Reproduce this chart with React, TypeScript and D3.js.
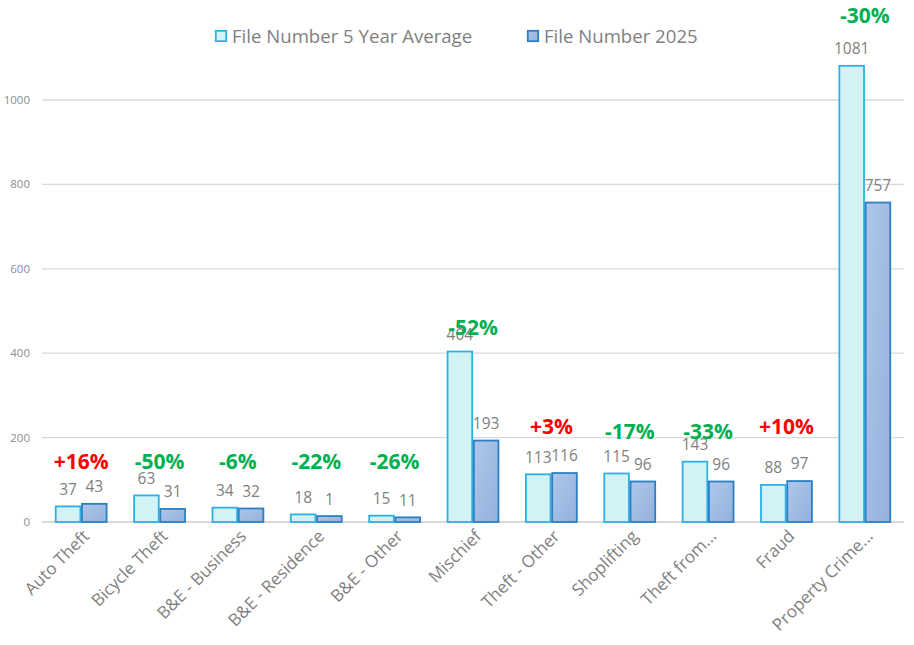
import React, { useEffect, useRef } from 'react';
import * as d3 from 'd3';

const categories = [
    'Auto Theft', 'Bicycle Theft', 'B&E - Business', 'B&E - Residence', 'B&E - Other',
    'Mischief', 'Theft - Other', 'Shoplifting', 'Theft from...', 'Fraud', 'Property Crime...'
];
const seriesNames = ['File Number 5 Year Average', 'File Number 2025'];
const avgValues = [37, 63, 34, 18, 15, 404, 113, 115, 143, 88, 1081];
const curValues = [43, 31, 32, 14, 11, 193, 116, 96, 96, 97, 757];
const avgLabels = ['37', '63', '34', '18', '15', '404', '113', '115', '143', '88', '1081'];
const curLabels = ['43', '31', '32', '1', '11', '193', '116', '96', '96', '97', '757'];
const changeLabels = ['+16%', '-50%', '-6%', '-22%', '-26%', '-52%', '+3%', '-17%', '-33%', '+10%', '-30%'];
// hidden series the change labels sit on (data units)
const changeLevels = [142, 142, 142, 142, 142, 460, 225, 213, 213, 227, 1199];
const yTicks = [0, 200, 400, 600, 800, 1000];

const App: React.FC = () => {
    const svgRef = useRef<SVGSVGElement>(null);

    useEffect(() => {
        if (!svgRef.current) return;
        const svg = d3.select(svgRef.current);
        svg.selectAll('*').remove();

        const font = "'Open Sans', 'Noto Sans', sans-serif";
        const gray = '#7f7f7f';

        const x0 = d3.scaleBand<string>()
            .domain(categories)
            .range([42, 904])
            .paddingInner(0.33)
            .paddingOuter(0.165);
        const x1 = d3.scaleBand<number>()
            .domain([0, 1])
            .range([0, x0.bandwidth()]);
        const y = d3.scaleLinear().domain([0, 1000]).range([522, 100]);

        const defs = svg.append('defs');
        const grad = defs.append('linearGradient')
            .attr('id', 'dark-grad')
            .attr('x1', '0%').attr('y1', '0%').attr('x2', '100%').attr('y2', '100%');
        grad.append('stop').attr('offset', '0%').attr('stop-color', '#aec6ea');
        grad.append('stop').attr('offset', '100%').attr('stop-color', '#94b2dc');

        // gridlines
        svg.append('g')
            .selectAll('line')
            .data(yTicks)
            .enter()
            .append('line')
            .attr('x1', 42)
            .attr('x2', 904)
            .attr('y1', d => y(d))
            .attr('y2', d => y(d))
            .attr('stroke', '#d9d9d9')
            .attr('stroke-width', d => (d === 0 ? 2 : 1.3));

        svg.append('g')
            .selectAll('text')
            .data(yTicks)
            .enter()
            .append('text')
            .attr('x', 30)
            .attr('y', d => y(d))
            .attr('dy', '0.35em')
            .attr('text-anchor', 'end')
            .attr('font-family', font)
            .attr('font-size', 11.5)
            .attr('fill', '#8c8c8c')
            .text(d => d);

        const series = [
            { values: avgValues, labels: avgLabels, fill: '#d3f2f6', stroke: '#2fb0e3' },
            { values: curValues, labels: curLabels, fill: 'url(#dark-grad)', stroke: '#2c7fc2' }
        ];

        series.forEach((s, si) => {
            svg.append('g')
                .selectAll('rect')
                .data(categories)
                .enter()
                .append('rect')
                .attr('x', c => (x0(c) as number) + (x1(si) as number) + 0.8)
                .attr('y', (c, i) => y(s.values[i]))
                .attr('width', x1.bandwidth() - 1.6)
                .attr('height', (c, i) => y(0) - y(s.values[i]))
                .attr('fill', s.fill)
                .attr('stroke', s.stroke)
                .attr('stroke-width', 1.8);

            svg.append('g')
                .selectAll('text')
                .data(categories)
                .enter()
                .append('text')
                .attr('x', c => (x0(c) as number) + (x1(si) as number) + x1.bandwidth() / 2)
                .attr('y', (c, i) => y(s.values[i]) - 17)
                .attr('dy', '0.35em')
                .attr('text-anchor', 'middle')
                .attr('font-family', font)
                .attr('font-size', 15.5)
                .attr('fill', gray)
                .text((c, i) => s.labels[i]);
        });

        // change labels
        svg.append('g')
            .selectAll('text')
            .data(categories)
            .enter()
            .append('text')
            .attr('x', c => (x0(c) as number) + x0.bandwidth() / 2)
            .attr('y', (c, i) => y(changeLevels[i]))
            .attr('dy', '0.35em')
            .attr('text-anchor', 'middle')
            .attr('font-family', font)
            .attr('font-size', 21)
            .attr('font-weight', 'bold')
            .attr('fill', (c, i) => (changeLabels[i].startsWith('+') ? '#ff0000' : '#00b050'))
            .text((c, i) => changeLabels[i]);

        // x labels
        svg.append('g')
            .selectAll('text')
            .data(categories)
            .enter()
            .append('text')
            .attr('transform', c => `translate(${(x0(c) as number) + x0.bandwidth() / 2 + 5}, 533) rotate(-45)`)
            .attr('text-anchor', 'end')
            .attr('dy', '0.35em')
            .attr('font-family', font)
            .attr('font-size', 17)
            .attr('fill', gray)
            .text(c => c);

        // legend
        const legendX = [215, 527];
        seriesNames.forEach((name, i) => {
            const g = svg.append('g').attr('transform', `translate(${legendX[i]}, 30)`);
            g.append('rect')
                .attr('x', 0.8)
                .attr('y', 0.8)
                .attr('width', 10.4)
                .attr('height', 10.4)
                .attr('fill', series[i].fill)
                .attr('stroke', series[i].stroke)
                .attr('stroke-width', 1.8);
            g.append('text')
                .attr('x', 17)
                .attr('y', 6)
                .attr('dy', '0.35em')
                .attr('font-family', font)
                .attr('font-size', 18.6)
                .attr('fill', gray)
                .text(name);
        });
    }, []);

    return (
        <div style={{ position: 'absolute', left: 0, top: 0 }}>
            <svg ref={svgRef} width={914} height={645} style={{ display: 'block', background: '#fff' }}></svg>
        </div>
    );
};

export default App;
